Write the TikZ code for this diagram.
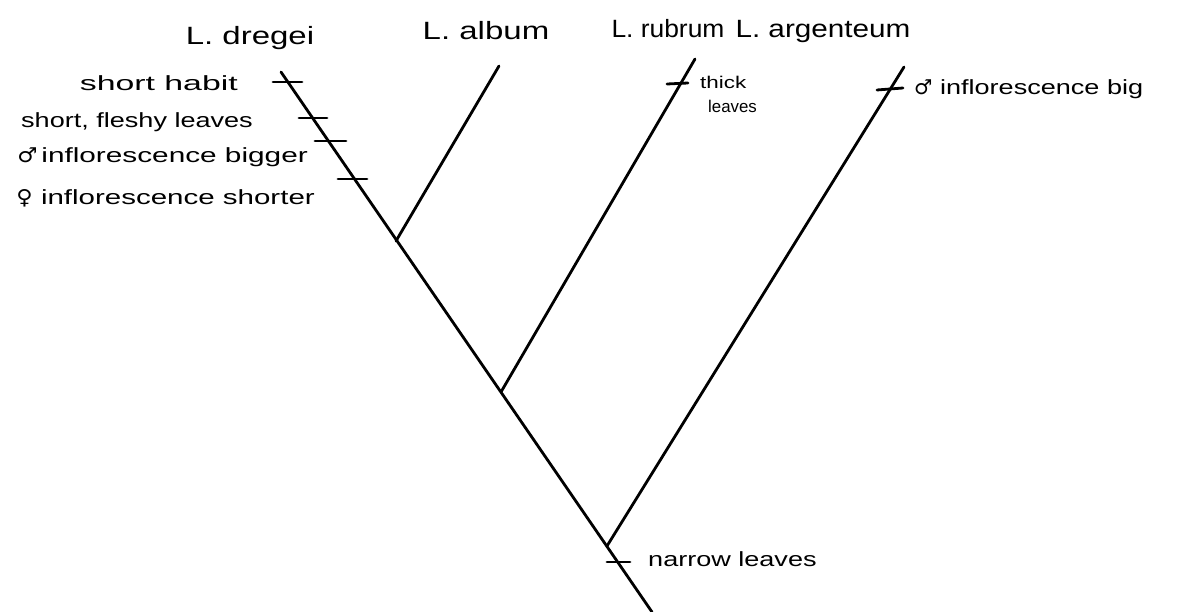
\documentclass[tikz,border=0pt]{standalone}
\usepackage{fontspec}
\newfontfamily\hand[FakeStretch=1.32]{Liberation Sans}
\newfontfamily\symb{DejaVu Sans}
\newcommand{\squeeze}[2]{\scalebox{#1}[1]{#2}}
\begin{document}
\begin{tikzpicture}[x=1pt,y=-1pt,
  branch/.style={line width=2.8pt,line cap=round},
  tickmark/.style={line width=2.8pt,line cap=round},
  taxon/.style={font=\hand\fontsize{25}{27}\selectfont,inner sep=0pt},
  trait/.style={font=\hand\fontsize{20.5}{23}\selectfont,inner sep=0pt},
  smalltrait/.style={font=\hand\fontsize{17}{19}\selectfont,inner sep=0pt}]
\useasboundingbox (0,0) rectangle (1184,612);

% tree skeleton: root, junctions and tips
\coordinate (root) at (652,612);
\coordinate (tipD) at (281,72);
\coordinate (j1) at (396,241);
\coordinate (j2) at (501,392);
\coordinate (j3) at (607,546);
\coordinate (tipA) at (499,66);
\coordinate (tipR) at (695,59);
\coordinate (tipG) at (904,67);

\draw[branch] (root) -- (tipD);
\draw[branch] (j1) -- (tipA);
\draw[branch] (j2) -- (tipR);
\draw[branch] (j3) -- (tipG);

% character-state changes
\draw[tickmark] (273,82) -- (302,82);
\draw[tickmark] (299,118) -- (327,118);
\draw[tickmark] (315,141) -- (346,141);
\draw[tickmark] (338,179) -- (367,179);
\draw[tickmark] (607,562) -- (630,562);
\draw[tickmark] (667,84) -- (688,83);
\draw[tickmark] (877,90) -- (903,88);

% taxa
\node[taxon,anchor=base] (nD) at (250,45) {L. dregei};
\node[taxon,anchor=base] (nA) at (486,40) {L. album};
\node[taxon,anchor=base] (nR) at (668,38) {\squeeze{0.8}{L. rubrum}};
\node[taxon,anchor=base] (nG) at (823,38) {\squeeze{0.9}{L. argenteum}};

% characters
\node[trait,anchor=base east] (c1) at (238,91) {\squeeze{1.25}{short habit}};
\node[trait,anchor=base east] (c2) at (253,128) {short, fleshy leaves};
\node[trait,anchor=base east] (c3) at (308,163) {\squeeze{1.1}{{\symb ♂}\,inflorescence bigger}};
\node[trait,anchor=base east] (c4) at (315,205) {\squeeze{1.09}{{\symb ♀} inflorescence shorter}};
\node[smalltrait,anchor=base west] (c5) at (700,89) {thick};
\node[smalltrait,anchor=base west] (c6) at (708,113) {\squeeze{0.75}{leaves}};
\node[trait,anchor=base west] (c7) at (914,95) {{\symb ♂} inflorescence big};
\node[trait,anchor=base west] (c8) at (648,566) {narrow leaves};
\end{tikzpicture}
\end{document}
